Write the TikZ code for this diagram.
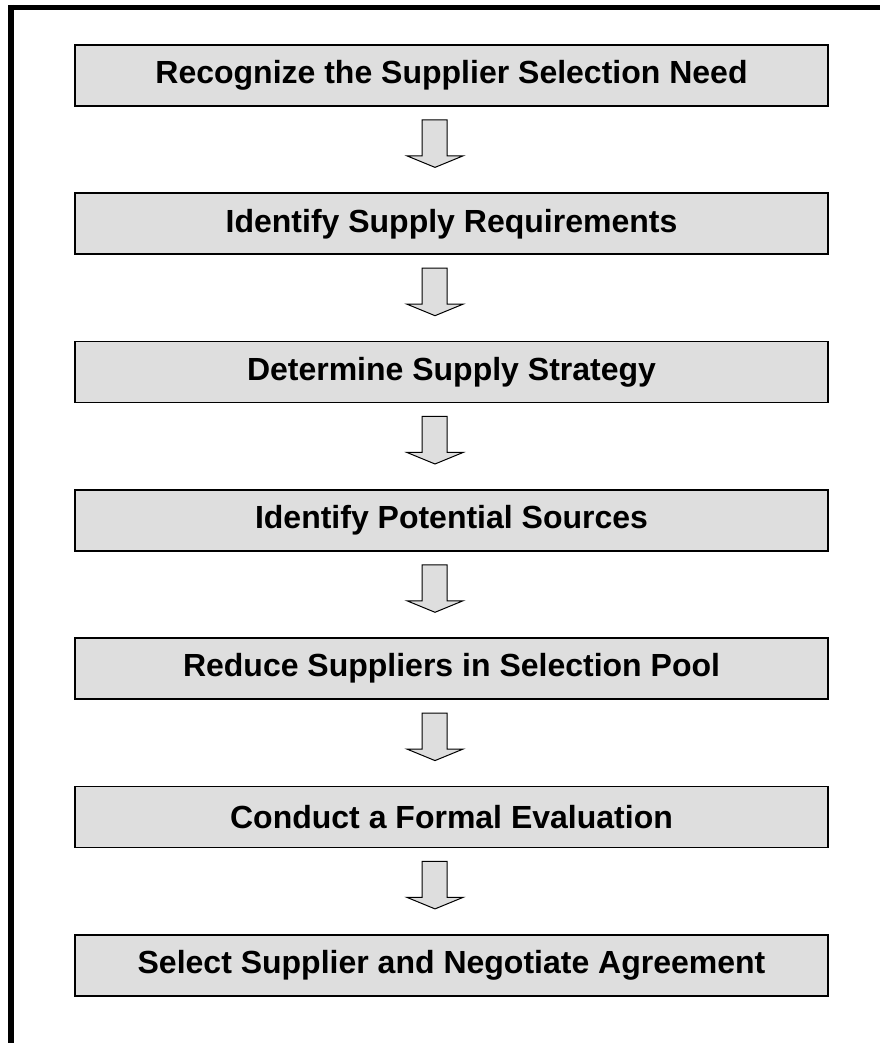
\documentclass[tikz,border=0pt]{standalone}
\usepackage{fontspec}
\setmainfont{Liberation Sans}
\usetikzlibrary{calc}
\newcommand{\flowarrow}[2]{%
	\draw[blockarrow] ($(#1.south)+(-29.5,-13)$) -- ($(#1.south)+(-4.5,-13)$)
		-- ($(#1.south)+(-4.5,-49)$) -- ($(#1.south)+(11.5,-49)$)
		-- ($(#2.north)+(-16.5,25)$) -- ($(#1.south)+(-44.5,-49)$)
		-- ($(#1.south)+(-29.5,-49)$) -- cycle;}
\begin{document}
\begin{tikzpicture}[x=1pt,y=1pt,
		stepbox/.style={draw, line width=1.8pt, fill=black!13, minimum width=753pt, minimum height=61pt, inner sep=0pt, font=\bfseries\fontsize{32}{38}\selectfont},
		blockarrow/.style={draw, line width=1pt, fill=black!13, line join=miter}]
				\useasboundingbox[fill=white] (0,0) rectangle (880,1043);
				\draw[line width=5pt] (8,1035.5) -- (880,1035.5);
				\draw[line width=6pt] (11,1038) -- (11,0);
				\node[stepbox] (need) at (451.5, 967.5) {Recognize the Supplier Selection Need};
				\node[stepbox] (req) at (451.5, 819.2) {Identify Supply Requirements};
				\node[stepbox] (strat) at (451.5, 670.9) {Determine Supply Strategy};
				\node[stepbox] (src) at (451.5, 522.6) {Identify Potential Sources};
				\node[stepbox] (pool) at (451.5, 374.3) {Reduce Suppliers in Selection Pool};
				\node[stepbox] (eval) at (451.5, 226.0) {Conduct a Formal Evaluation};
				\node[stepbox] (agree) at (451.5, 77.7) {Select Supplier and Negotiate Agreement};
				\flowarrow{need}{req}
				\flowarrow{req}{strat}
				\flowarrow{strat}{src}
				\flowarrow{src}{pool}
				\flowarrow{pool}{eval}
				\flowarrow{eval}{agree}
			\end{tikzpicture}
\end{document}
